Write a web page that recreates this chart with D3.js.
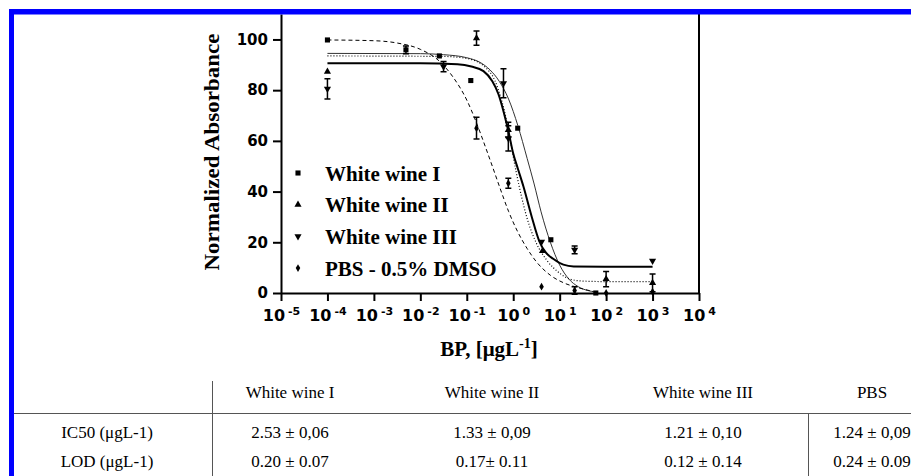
<!DOCTYPE html>
<html>
<head>
<meta charset="utf-8">
<script src="https://cdn.jsdelivr.net/npm/d3@7"></script>
<style>
body { margin: 0; background: #fff; }
svg { display: block; }
</style>
</head>
<body>
<script>
// ---------------------------------------------
// data
// ---------------------------------------------
var seriesNames = ["White wine I", "White wine II", "White wine III", "PBS - 0.5% DMSO"];

// measured points (concentration in ugL-1, normalized absorbance, error)
var wine1X = [0.0001, 0.0049, 0.0257, 0.122, 1.25, 6.46, 60];
var wine1Y = [99.8, 95.9, 93.5, 83.8, 65, 21, 0];
var wine1Err = [0, 1.5, 0, 0, 0, 0, 0];

var wine2X = [0.0001, 0.162, 0.785, 4.27, 100, 1000];
var wine2Y = [87.3, 100.5, 64.3, 16.6, 5.5, 4.0];
var wine2Err = [0, 2.8, 3, 0, 3, 3.5];

var wine3X = [0.0001, 0.0316, 0.617, 0.785, 4.07, 21, 1000];
var wine3Y = [80.5, 89.3, 82.7, 61, 20.2, 17, 12.7];
var wine3Err = [4, 2, 5.7, 5, 0, 1.5, 0];

var pbsX = [0.162, 0.785, 4.07, 21, 100, 1000];
var pbsY = [65, 43.3, 2.5, 1, 0, 0.5];
var pbsErr = [4.3, 2, 0, 1.5, 0, 0];

// fitted curves as drawn in the figure
var wine1FitX = [0.0001, 0.01, 0.0316, 0.1, 0.2, 0.316, 0.5, 0.794, 1.26, 2.0, 2.82, 3.98, 6.31, 10, 15.8, 25.1, 39.8, 60.3];
var wine1FitY = [94.5, 94.4, 94.0, 92.8, 90.8, 88.0, 83.5, 76.5, 66, 53, 43, 32, 20, 11, 5.5, 2.5, 1.0, 0.4];

var wine2FitX = [0.0001, 0.0316, 0.1, 0.251, 0.398, 0.562, 0.759, 0.933, 1.15, 1.51, 1.95, 3.16, 5.25, 10, 16.6, 31.6, 100, 1000];
var wine2FitY = [93.5, 93.3, 92.5, 89, 84, 76, 66, 57, 48, 38, 30, 19.6, 13, 7.8, 5.5, 4.7, 4.5, 4.5];

var wine3FitX = [0.0001, 0.01, 0.0631, 0.126, 0.229, 0.355, 0.479, 0.631, 0.794, 1.0, 1.26, 1.66, 2.51, 3.63, 5.01, 7.24, 12.0, 20, 100, 1000];
var wine3FitY = [90.6, 90.6, 90.2, 89.3, 87.5, 83.5, 78.5, 71, 63.5, 55, 49, 42, 30, 20.5, 16, 13.5, 11.2, 10.5, 10.4, 10.4];

var pbsFitX = [0.0001, 0.001, 0.00316, 0.01, 0.0251, 0.05, 0.1, 0.158, 0.251, 0.355, 0.501, 0.794, 1.26, 2.0, 3.16, 6.31, 12.6, 25.1, 52.5];
var pbsFitY = [99.8, 99.5, 98.6, 96.1, 91.6, 85.3, 76.1, 67.6, 57.7, 50, 42.2, 32.2, 24, 17.5, 12.3, 7, 3.9, 2.1, 0.6];

var xTicks = [1e-5, 1e-4, 1e-3, 1e-2, 1e-1, 1e0, 1e1, 1e2, 1e3, 1e4];
var yTicks = [0, 20, 40, 60, 80, 100];

// table under the chart
var tableHead = ["", "White wine I", "White wine II", "White wine III", "PBS"];
var ic50Row = ["IC50 (\u03bcgL-1)", "2.53 \u00b1 0,06", "1.33 \u00b1 0,09", "1.21 \u00b1 0,10", "1.24 \u00b1 0,09"];
var lodRow = ["LOD (\u03bcgL-1)", "0.20 \u00b1 0.07", "0.17\u00b1 0.11", "0.12 \u00b1 0.14", "0.24 \u00b1 0.09"];

// ---------------------------------------------
// setup
// ---------------------------------------------
var width = 911, height = 476;

var svg = d3.select("body").append("svg")
  .attr("width", width)
  .attr("height", height);

var x = d3.scaleLog().domain([1e-5, 1e4]).range([281, 699]);
var y = d3.scaleLinear().domain([0, 110]).range([293, 14.1]);

var tickFont = "'DejaVu Sans', Verdana, sans-serif";
var serif = "'Liberation Serif', 'Times New Roman', serif";

function zip(xs, ys, es) {
  return xs.map(function(v, i) {
    return { x: v, y: ys[i], e: es ? es[i] : 0 };
  });
}

var series = [
  { name: seriesNames[0], pts: zip(wine1X, wine1Y, wine1Err), fit: zip(wine1FitX, wine1FitY),
    symbol: d3.symbolSquare, size: 26, rot: 0, width: 1, dash: null, stroke: "#333" },
  { name: seriesNames[1], pts: zip(wine2X, wine2Y, wine2Err), fit: zip(wine2FitX, wine2FitY),
    symbol: d3.symbolTriangle, size: 22, rot: 0, width: 1.2, dash: "1,2", stroke: "#000" },
  { name: seriesNames[2], pts: zip(wine3X, wine3Y, wine3Err), fit: zip(wine3FitX, wine3FitY),
    symbol: d3.symbolTriangle, size: 22, rot: 180, width: 2, dash: null, stroke: "#000" },
  { name: seriesNames[3], pts: zip(pbsX, pbsY, pbsErr), fit: zip(pbsFitX, pbsFitY),
    symbol: d3.symbolDiamond, size: 18, rot: 0, width: 1, dash: "4,3", stroke: "#000" }
];

// ---------------------------------------------
// axes
// ---------------------------------------------
var gx = svg.append("g")
  .attr("transform", "translate(0," + y(0) + ")")
  .call(d3.axisBottom(x).tickValues(xTicks).tickSize(8).tickSizeOuter(0).tickPadding(9));

gx.select(".domain").attr("stroke-width", 2);
gx.selectAll(".tick line").attr("stroke-width", 2);
gx.selectAll(".tick text")
  .attr("font-family", tickFont)
  .attr("font-weight", "bold")
  .attr("font-size", 16)
  .text(null)
  .each(function(d) {
    var t = d3.select(this);
    t.append("tspan").text("10");
    t.append("tspan")
      .attr("dx", 3)
      .attr("dy", -6)
      .attr("font-size", 11)
      .text(Math.round(Math.log10(d)));
  });

var gy = svg.append("g")
  .attr("transform", "translate(" + x(1e-5) + ",0)")
  .call(d3.axisLeft(y).tickValues(yTicks).tickSize(8).tickSizeOuter(0).tickPadding(5));

gy.select(".domain").attr("stroke-width", 2);
gy.selectAll(".tick line").attr("stroke-width", 2);
gy.selectAll(".tick text")
  .attr("font-family", tickFont)
  .attr("font-weight", "bold")
  .attr("font-size", 15);

// right frame line
svg.append("line")
  .attr("x1", x(1e4)).attr("x2", x(1e4))
  .attr("y1", y(110)).attr("y2", y(0))
  .attr("stroke", "#000")
  .attr("stroke-width", 2);

// axis titles
svg.append("text")
  .attr("transform", "translate(219,152) rotate(-90)")
  .attr("text-anchor", "middle")
  .attr("font-family", serif)
  .attr("font-weight", "bold")
  .attr("font-size", 21)
  .attr("textLength", 237)
  .attr("lengthAdjust", "spacingAndGlyphs")
  .text("Normalized Absorbance");

var xt = svg.append("text")
  .attr("x", 489)
  .attr("y", 356)
  .attr("text-anchor", "middle")
  .attr("font-family", serif)
  .attr("font-weight", "bold")
  .attr("font-size", 21);
xt.append("tspan").text("BP, [\u03bcgL");
xt.append("tspan").attr("dy", -8).attr("font-size", 14).text("-1");
xt.append("tspan").attr("dy", 8).text("]");

// ---------------------------------------------
// curves, error bars, points
// ---------------------------------------------
var line = d3.line()
  .x(function(d) { return x(d.x); })
  .y(function(d) { return y(d.y); })
  .curve(d3.curveMonotoneX);

series.forEach(function(s) {
  svg.append("path")
    .datum(s.fit)
    .attr("d", line)
    .attr("fill", "none")
    .attr("stroke", s.stroke)
    .attr("stroke-width", s.width)
    .attr("stroke-dasharray", s.dash);
});

series.forEach(function(s) {
  var g = svg.append("g");
  var bars = s.pts.filter(function(d) { return d.e > 0; });

  g.selectAll(".eb")
    .data(bars)
    .enter()
    .append("path")
    .attr("d", function(d) {
      var cx = x(d.x), t = y(d.y + d.e), b = y(d.y - d.e);
      return "M" + cx + "," + t + "V" + b +
        "M" + (cx - 3) + "," + t + "H" + (cx + 3) +
        "M" + (cx - 3) + "," + b + "H" + (cx + 3);
    })
    .attr("stroke", "#000")
    .attr("stroke-width", 1.5)
    .attr("fill", "none");

  g.selectAll(".pt")
    .data(s.pts)
    .enter()
    .append("path")
    .attr("d", d3.symbol().type(s.symbol).size(s.size))
    .attr("transform", function(d) {
      return "translate(" + x(d.x) + "," + y(d.y) + ") rotate(" + s.rot + ")";
    })
    .attr("fill", "#000");
});

// ---------------------------------------------
// legend
// ---------------------------------------------
var legend = svg.append("g");
series.forEach(function(s, i) {
  var cy = 173 + i * 31.7;
  legend.append("path")
    .attr("d", d3.symbol().type(s.symbol).size(s.size))
    .attr("transform", "translate(298," + cy + ") rotate(" + s.rot + ")")
    .attr("fill", "#000");
  legend.append("text")
    .attr("x", 325)
    .attr("y", cy + 7.5)
    .attr("font-family", serif)
    .attr("font-weight", "bold")
    .attr("font-size", 21)
    .text(s.name);
});

// ---------------------------------------------
// table
// ---------------------------------------------
var colX = [107, 290, 492, 703, 872];
var rows = [tableHead, ic50Row, lodRow];
var rowY = [398, 438, 467];

var table = svg.append("g")
  .attr("font-family", serif)
  .attr("font-size", 17)
  .attr("fill", "#000");

rows.forEach(function(r, ri) {
  table.selectAll(".r" + ri)
    .data(r)
    .enter()
    .append("text")
    .attr("x", function(d, i) { return colX[i]; })
    .attr("y", rowY[ri])
    .attr("text-anchor", "middle")
    .text(function(d) { return d; });
});

svg.append("line")
  .attr("x1", 14).attr("x2", width)
  .attr("y1", 413.5).attr("y2", 413.5)
  .attr("stroke", "#555").attr("stroke-width", 1);
svg.append("line")
  .attr("x1", 212.5).attr("x2", 212.5)
  .attr("y1", 381).attr("y2", height)
  .attr("stroke", "#555").attr("stroke-width", 1);
svg.append("line")
  .attr("x1", 808.5).attr("x2", 808.5)
  .attr("y1", 413).attr("y2", height)
  .attr("stroke", "#555").attr("stroke-width", 1);

// ---------------------------------------------
// blue frame
// ---------------------------------------------
svg.append("rect")
  .attr("x", 9).attr("y", 9)
  .attr("width", width - 9).attr("height", 5.5)
  .attr("fill", "#0000ff");
svg.append("rect")
  .attr("x", 9).attr("y", 9)
  .attr("width", 5).attr("height", height - 9)
  .attr("fill", "#0000ff");
</script>
</body>
</html>
